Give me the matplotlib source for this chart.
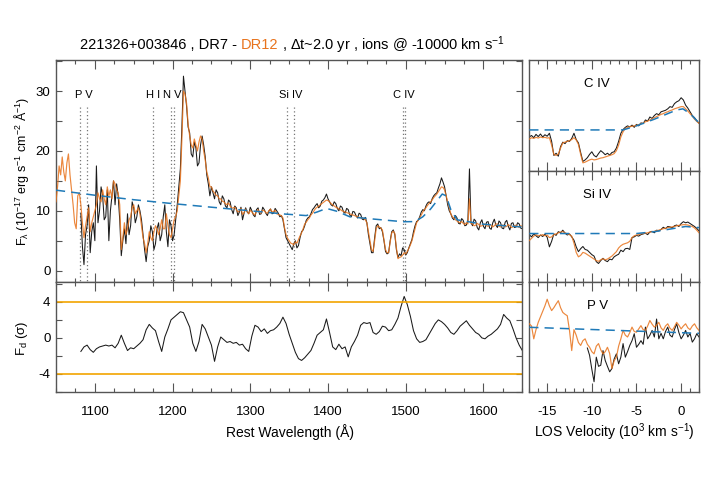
import numpy as np
import matplotlib
matplotlib.use("Agg")
import matplotlib.pyplot as plt
from matplotlib.ticker import MultipleLocator

plt.rcParams['font.family'] = ['Liberation Sans', 'DejaVu Sans']
plt.rcParams['mathtext.fontset'] = 'custom'
plt.rcParams['mathtext.rm'] = 'Liberation Sans'
plt.rcParams['mathtext.it'] = 'Liberation Sans:italic'
plt.rcParams['mathtext.default'] = 'regular'
plt.rcParams['axes.unicode_minus'] = False

# ---------------- data ----------------
# rest-frame wavelength grid (A); DR12 covers the full range, DR7 starts at 1082
wave = np.arange(1050, 1651, 2)
wave_dr7 = wave[16:]

dr12_flux = [
    11.5, 14.0, 17.5, 16.0, 19.0, 16.5, 15.0, 18.0, 19.5, 16.0, 13.5, 11.0, 8.0, 7.0, 12.5, 13.0,  # 1050-1080
    11.0, 8.0, 5.5, 7.5, 9.0, 10.5, 6.5, 8.0, 9.0, 10.0, 11.0, 13.0, 12.0, 11.5, 13.5, 12.0, 11.0, 14.0, 12.5, 13.5,  # 1082-1120
    12.0, 15.0, 14.5, 13.5, 13.0, 11.0, 3.5, 5.5, 8.0, 6.0, 7.0, 8.5, 9.0, 10.5, 11.0, 9.5, 10.0, 10.5, 9.5, 7.5,  # 1122-1160
    5.5, 4.5, 3.0, 4.5, 6.5, 5.5, 5.0, 6.5, 7.5, 7.0, 6.0, 7.0, 8.5, 7.0, 7.0, 9.5, 7.5, 6.0, 5.5, 7.0,  # 1162-1200
    8.5, 9.0, 10.0, 12.5, 15.0, 22.0, 30.0, 29.5, 28.0, 24.5, 22.5, 21.0, 20.5, 22.0, 21.0, 20.0, 21.5, 22.5, 22.0, 20.0,  # 1202-1240
    18.5, 16.5, 15.5, 14.0, 14.0, 13.3, 13.0, 12.6, 12.5, 12.0, 12.0, 11.6, 11.5, 11.2, 11.0, 11.3, 10.8, 10.4, 10.5, 10.6,  # 1242-1280
    10.2, 9.8, 10.0, 10.4, 9.4, 9.7, 10.3, 9.9, 9.5, 10.1, 9.8, 9.5, 9.3, 9.9, 10.2, 9.7, 9.6, 10.1, 10.0, 9.7,  # 1282-1320
    9.6, 10.0, 10.3, 9.8, 9.9, 10.1, 9.5, 9.4, 9.3, 9.2, 8.8, 7.2, 6.0, 5.4, 5.0, 4.6, 4.5, 4.3, 4.8, 4.6,  # 1322-1360
    5.2, 5.8, 6.3, 7.0, 7.8, 8.1, 8.5, 8.8, 9.3, 9.6, 10.0, 10.4, 10.6, 10.8, 11.0, 11.2, 11.4, 11.6, 11.8, 11.7,  # 1362-1400
    11.5, 11.2, 11.0, 10.8, 10.6, 10.5, 10.3, 10.2, 10.0, 9.9, 9.8, 9.7, 9.6, 9.5, 9.4, 9.3, 9.2, 9.1, 9.0, 8.9,  # 1402-1440
    8.8, 8.8, 8.7, 8.5, 8.0, 6.5, 5.0, 3.5, 3.2, 5.0, 7.0, 7.5, 7.3, 7.1, 6.8, 5.2, 3.5, 3.0, 3.0, 4.8,  # 1442-1480
    6.3, 6.6, 6.2, 3.8, 2.0, 2.2, 2.3, 2.6, 3.0, 2.8, 3.2, 3.7, 4.3, 5.0, 6.0, 7.0, 8.0, 8.4, 8.8, 9.3,  # 1482-1520
    9.8, 10.2, 10.5, 10.9, 11.2, 11.5, 11.8, 12.2, 12.5, 12.8, 13.2, 13.6, 14.0, 13.9, 13.5, 12.5, 11.5, 10.5, 9.5, 9.0,  # 1522-1560
    8.8, 8.5, 8.3, 8.1, 8.0, 8.2, 7.9, 7.7, 8.0, 7.8, 12.0, 7.9, 7.8, 7.5, 7.6, 7.9, 7.7, 7.4, 7.5, 7.7,  # 1562-1600
    7.8, 7.5, 7.4, 7.7, 7.6, 7.3, 7.5, 7.8, 7.8, 7.4, 7.3, 7.6, 7.6, 7.3, 7.4, 7.7, 7.5, 7.2, 7.3, 7.5,  # 1602-1640
    7.6, 7.4, 7.2, 7.5, 7.4,  # 1642-1650
]

dr7_flux = [
    9.5, 4.0, 1.0, 6.0, 7.5, 11.0, 3.0, 6.5, 8.0, 5.0, 17.5, 8.0, 10.0, 14.0, 12.5, 8.5, 9.0, 13.5, 5.0, 10.0,  # 1082-1120
    12.5, 15.0, 11.0, 14.5, 12.5, 8.5, 2.5, 5.0, 7.0, 4.5, 9.5, 6.0, 7.5, 11.5, 10.5, 8.0, 9.0, 11.0, 10.0, 8.5,  # 1122-1160
    6.0, 3.5, 1.5, 4.0, 5.0, 7.5, 6.5, 3.5, 4.5, 7.0, 8.0, 5.0, 6.0, 9.0, 11.0, 6.5, 4.0, 8.5, 7.5, 5.0,  # 1162-1200
    6.0, 8.5, 11.0, 14.0, 17.0, 24.0, 32.5, 30.0, 27.5, 24.0, 23.0, 19.5, 19.0, 21.5, 20.5, 17.5, 18.0, 21.0, 22.5, 21.0,  # 1202-1240
    19.0, 16.0, 14.5, 12.5, 14.0, 13.0, 12.0, 13.5, 13.0, 11.5, 11.0, 12.5, 12.0, 10.8, 10.5, 11.8, 11.5, 10.2, 9.5, 10.8,  # 1242-1280
    10.5, 9.2, 9.8, 10.6, 8.5, 9.6, 10.5, 9.8, 9.5, 10.6, 10.0, 9.3, 9.0, 10.2, 10.5, 9.4, 9.5, 10.6, 10.2, 9.6,  # 1282-1320
    9.2, 10.0, 10.3, 9.5, 9.6, 10.4, 10.0, 9.6, 9.0, 9.2, 8.5, 7.0, 5.5, 5.0, 4.5, 4.0, 3.5, 4.5, 5.0, 3.8,  # 1322-1360
    4.2, 5.5, 6.5, 6.8, 7.5, 8.4, 8.8, 9.0, 9.5, 10.2, 10.5, 10.9, 11.2, 10.5, 10.8, 11.6, 11.8, 12.2, 12.8, 12.0,  # 1362-1400
    11.5, 11.0, 10.8, 11.5, 11.2, 10.4, 10.0, 10.8, 10.6, 9.8, 9.6, 10.4, 10.2, 9.3, 9.0, 9.9, 9.8, 9.2, 8.8, 9.6,  # 1402-1440
    9.4, 8.6, 8.5, 8.9, 8.0, 6.0, 4.5, 3.0, 3.0, 5.5, 7.5, 7.8, 7.0, 7.2, 6.5, 5.0, 3.2, 2.8, 3.0, 5.0,  # 1442-1480
    6.5, 6.8, 6.0, 3.5, 2.2, 2.8, 2.5, 3.8, 3.5, 2.6, 3.0, 3.8, 4.5, 5.2, 6.5, 7.5, 8.2, 8.4, 9.0, 9.8,  # 1482-1520
    10.2, 10.0, 10.8, 11.3, 11.5, 11.2, 12.0, 12.5, 12.8, 13.0, 13.8, 14.5, 15.5, 14.8, 14.0, 12.5, 11.0, 10.0, 9.5, 8.8,  # 1522-1560
    8.5, 9.2, 8.8, 7.9, 7.8, 8.7, 8.4, 7.5, 7.6, 8.4, 17.0, 8.0, 7.5, 8.6, 8.3, 7.2, 6.8, 8.0, 8.5, 7.4,  # 1562-1600
    7.0, 8.1, 8.2, 7.1, 6.9, 8.0, 8.6, 7.6, 7.2, 8.3, 8.0, 7.1, 7.0, 8.1, 8.4, 7.4, 6.8, 7.9, 8.0, 7.2,  # 1602-1640
    7.3, 8.0, 7.8, 7.1, 7.0,  # 1642-1650
]

# continuum + emission-line fit
cont_wave = [1050, 1100, 1150, 1200, 1250, 1300, 1345, 1372, 1386, 1398, 1412,
             1428, 1460, 1497, 1512, 1522, 1532, 1541, 1547, 1552, 1558, 1566, 1600, 1650]
cont_flux = [13.45, 12.6, 11.85, 11.2, 10.6, 10.0, 9.45, 9.2, 9.8, 10.4, 9.9,
             9.0, 8.6, 8.17, 8.2, 9.0, 10.3, 11.8, 12.8, 12.5, 10.2, 8.5, 7.75, 7.3]

# flux-difference significance (sigma), 4 A steps from 1082
sig_wave = np.arange(1082, 1651, 4)
sigma_diff = [
    -1.5, -1.0, -0.8, -1.3, -1.6, -1.2, -1.0, -0.9, -0.8, -0.9,  # 1082-1118
    -0.8, -1.1, -0.6, 0.3, -0.6, -1.4, -1.1, -1.2, -0.9, -0.6,   # 1122-1158
    -0.2, 0.9, 1.5, 1.1, 0.8, -0.4, -1.5, 0.1, 1.0, 2.0,         # 1162-1198
    2.3, 2.6, 2.9, 2.8, 2.0, 1.2, -0.6, -1.5, -0.4, 1.5,         # 1202-1238
    1.0, 0.1, -0.8, -2.6, -1.0, 0.1, -0.2, -0.5, -0.4, -0.6,     # 1242-1278
    -0.5, -0.8, -0.7, -1.2, -1.5, 0.2, 1.4, 1.2, 0.7, 1.0,       # 1282-1318
    0.5, 0.8, 0.9, 1.2, 1.6, 2.3, 1.6, 0.4, -0.6, -1.6,          # 1322-1358
    -2.3, -2.5, -2.2, -1.8, -1.4, -0.6, 0.3, 0.6, 0.9, 2.1,      # 1362-1398
    0.6, -1.0, -1.3, -0.7, -1.2, -1.0, -2.1, -1.0, -0.4, 0.3,    # 1402-1438
    1.4, 1.7, 1.6, 1.7, 0.6, 0.4, 0.7, 1.3, 1.2, 0.8,            # 1442-1478
    0.9, 1.5, 2.2, 3.5, 4.6, 3.7, 2.4, 0.8, -0.1, -0.5,          # 1482-1518
    -0.4, -0.2, 0.4, 1.0, 1.6, 2.0, 1.8, 1.5, 1.1, 0.6,          # 1522-1558
    0.4, 0.8, 1.3, 1.6, 1.9, 1.4, 1.0, 0.6, 0.4, 0.0,            # 1562-1598
    -0.1, 0.2, 0.4, 0.7, 1.0, 1.5, 2.6, 2.2, 1.9, 1.0,           # 1602-1638
    0.0, -0.8, -1.4,                                             # 1642-1650
]

# ions marked at -10000 km/s
ion_names = ['P V', 'H I', 'N V', 'Si IV', 'C IV']
ion_rest = [[1117.98, 1128.01], [1215.67], [1238.82, 1242.80],
            [1393.76, 1402.77], [1548.20, 1550.77]]
ion_vel = -10000.0

# velocity panels (10^3 km/s), flux scaled per panel
vel = np.arange(-17, 2.01, 0.25)

civ_dr7 = [
    0.92, 0.96, 0.90, 0.99, 0.93, 1.00, 0.92, 0.98, 0.94, 1.02,
    0.80, 0.42, 0.48, 0.40, 0.66, 0.78, 0.74, 0.82, 0.80, 0.88,
    1.02, 0.85, 0.76, 0.50, 0.26, 0.30, 0.36, 0.45, 0.52, 0.42,
    0.38, 0.47, 0.55, 0.50, 0.44, 0.48, 0.43, 0.50, 0.52, 0.62,
    0.80, 1.02, 1.12, 1.18, 1.22, 1.19, 1.24, 1.18, 1.26, 1.22,
    1.30, 1.28, 1.38, 1.35, 1.46, 1.42, 1.50, 1.55, 1.52, 1.60,
    1.62, 1.64, 1.68, 1.74, 1.72, 1.82, 1.87, 1.90, 1.98, 1.92,
    1.78, 1.70, 1.60, 1.50, 1.44, 1.36, 1.29,
]
civ_dr12 = [
    0.86, 0.90, 0.88, 0.91, 0.89, 0.92, 0.90, 0.91, 0.89, 0.90,
    0.70, 0.45, 0.42, 0.46, 0.62, 0.76, 0.78, 0.80, 0.82, 0.85,
    0.90, 0.84, 0.72, 0.45, 0.22, 0.24, 0.27, 0.30, 0.32, 0.30,
    0.31, 0.33, 0.35, 0.36, 0.38, 0.40, 0.42, 0.44, 0.47, 0.55,
    0.70, 0.92, 1.06, 1.15, 1.18, 1.20, 1.21, 1.22, 1.24, 1.25,
    1.28, 1.30, 1.33, 1.35, 1.38, 1.41, 1.44, 1.47, 1.50, 1.53,
    1.55, 1.58, 1.60, 1.63, 1.65, 1.68, 1.70, 1.72, 1.74, 1.74,
    1.68, 1.62, 1.55, 1.48, 1.40, 1.34, 1.29,
]
civ_cont_vel = [-17, -6.5, -5, -3, -1.5, -0.5, 0.2, 1, 2]
civ_cont = [1.11, 1.11, 1.22, 1.40, 1.55, 1.65, 1.68, 1.55, 1.30]

siiv_dr7 = [
    1.28, 1.22, 1.30, 1.25, 1.20, 1.27, 1.23, 1.29, 1.21, 0.95,
    1.10, 1.30, 1.26, 1.36, 1.33, 1.40, 1.32, 1.27, 1.30, 1.22,
    1.13, 0.95, 0.82, 0.90, 0.96, 0.88, 0.86, 0.80, 0.74, 0.70,
    0.55, 0.50, 0.58, 0.64, 0.58, 0.55, 0.62, 0.60, 0.68, 0.72,
    0.75, 0.86, 0.82, 0.90, 0.91, 0.88, 1.20, 1.22, 1.26, 1.24,
    1.28, 1.30, 1.32, 1.28, 1.35, 1.37, 1.33, 1.40, 1.38, 1.42,
    1.48, 1.44, 1.50, 1.49, 1.46, 1.52, 1.54, 1.50, 1.58, 1.63,
    1.60, 1.62, 1.58, 1.54, 1.50, 1.45, 1.38,
]
siiv_dr12 = [
    1.12, 1.18, 1.24, 1.28, 1.25, 1.26, 1.28, 1.25, 1.27, 1.20,
    1.22, 1.28, 1.30, 1.33, 1.35, 1.36, 1.33, 1.30, 1.28, 1.24,
    1.05, 0.80, 0.68, 0.72, 0.80, 0.78, 0.74, 0.70, 0.66, 0.62,
    0.58, 0.56, 0.60, 0.63, 0.60, 0.62, 0.66, 0.70, 0.76, 0.82,
    0.92, 0.98, 1.02, 1.04, 1.06, 1.10, 1.20, 1.25, 1.27, 1.28,
    1.30, 1.31, 1.32, 1.33, 1.35, 1.36, 1.37, 1.39, 1.40, 1.42,
    1.44, 1.45, 1.47, 1.48, 1.49, 1.50, 1.52, 1.53, 1.54, 1.55,
    1.55, 1.54, 1.52, 1.50, 1.46, 1.40, 1.33,
]
siiv_cont_vel = [-17, -5, -3, -1, 0.5, 2]
siiv_cont = [1.31, 1.31, 1.36, 1.44, 1.50, 1.47]

nan = np.nan
pv_dr7 = [
    nan, nan, nan, nan, nan, nan, nan, nan, nan, nan,
    nan, nan, nan, nan, nan, nan, nan, nan, nan, nan,
    nan, nan, nan, nan, nan, nan, 1.20, 1.00, 0.62, 0.28,
    0.95, 0.70, 0.73, 1.13, 0.86, 0.70, 0.55, 0.64, 0.90, 1.04,
    0.77, 0.95, 1.32, 0.95, 1.10, 1.27, 1.40, 1.59, 1.22, 1.30,
    1.40, 1.30, 1.77, 1.45, 1.55, 1.68, 1.50, 1.99, 1.45, 1.60,
    1.45, 1.65, 1.77, 1.55, 1.50, 1.70, 1.86, 1.62, 1.45, 1.55,
    1.68, 1.50, 1.60, 1.36, 1.45, 1.59, 1.50,
]
pv_dr12 = [
    1.86, 1.80, 1.45, 1.70, 1.90, 2.05, 2.20, 2.35, 2.53, 2.35,
    2.22, 2.30, 2.40, 2.49, 2.30, 2.17, 2.12, 2.08, 1.68, 1.13,
    1.70, 1.55, 1.35, 1.27, 1.40, 1.45, 1.30, 1.22, 1.10, 1.04,
    1.25, 1.32, 1.15, 1.04, 1.10, 1.22, 1.05, 0.64, 0.85, 0.95,
    1.25, 1.45, 1.68, 1.55, 1.50, 1.62, 1.77, 1.65, 1.63, 1.72,
    1.81, 1.70, 1.68, 1.80, 1.95, 1.85, 1.77, 1.82, 1.90, 1.75,
    1.68, 1.80, 1.86, 1.74, 1.68, 1.78, 1.90, 1.82, 1.72, 1.80,
    1.86, 1.75, 1.70, 1.80, 1.86, 1.75, 1.68,
]
pv_cont_vel = [-17, 2]
pv_cont = [1.765, 1.60]

# ---------------- style ----------------
BLACK = '#1a1a1a'
ORANGE = '#e8731c'
BLUE = '#1f7ab8'
GOLD = '#f2a400'
FRAME = '#555555'

W, H = 706, 504
fig = plt.figure(figsize=(W / 100, H / 100), dpi=100)


def box(x0, y0, x1, y1):
    return [x0 / W, 1 - y1 / H, (x1 - x0) / W, (y1 - y0) / H]


ax_main = fig.add_axes(box(56, 60, 522.3, 282))
ax_sig = fig.add_axes(box(56, 282, 522.3, 392))
ax_civ = fig.add_axes(box(529.3, 60, 699, 171))
ax_siiv = fig.add_axes(box(529.3, 171, 699, 282))
ax_pv = fig.add_axes(box(529.3, 282, 699, 392))


def style(ax, yticks=True):
    for s in ax.spines.values():
        s.set_color(FRAME)
        s.set_linewidth(1.0)
    ax.tick_params(which='both', direction='in', top=True, right=True,
                   color=FRAME, width=0.8, labelsize=9.5, pad=4)
    ax.tick_params(which='major', length=6.3)
    ax.tick_params(which='minor', length=3.2)
    ax.tick_params(axis='x', pad=10)
    if yticks:
        ax.tick_params(axis='y', which='both', length=4)
    else:
        ax.tick_params(axis='y', which='both', left=False, right=False, labelleft=False)


# main spectrum panel
ax_main.plot(wave_dr7, dr7_flux, color=BLACK, lw=0.75, zorder=2)
ax_main.plot(wave, dr12_flux, color=ORANGE, lw=0.85, alpha=0.85, zorder=3)
ax_main.plot(cont_wave, cont_flux, color=BLUE, lw=1.1, ls=(0, (6, 4)), zorder=4)
ax_main.set_xlim(1050, 1650)
ax_main.set_ylim(-1.9, 35.2)
ax_main.xaxis.set_major_locator(MultipleLocator(100))
ax_main.xaxis.set_minor_locator(MultipleLocator(25))
ax_main.yaxis.set_major_locator(MultipleLocator(10))
ax_main.yaxis.set_minor_locator(MultipleLocator(5))
style(ax_main)
ax_main.tick_params(labelbottom=False)

shift = 1 + ion_vel / 299792.458
for name, rest in zip(ion_names, ion_rest):
    obs = [r * shift for r in rest]
    for w in obs:
        ax_main.plot([w, w], [27.3, -1.9], color='#777777', lw=0.9,
                     ls=(0, (1, 2)), zorder=1)
    ax_main.text(np.mean(obs), 29.3, name, ha='center', va='center', fontsize=8)

# significance panel
ax_sig.plot(sig_wave, sigma_diff, color=BLACK, lw=0.75)
ax_sig.axhline(4, color=GOLD, lw=1.2)
ax_sig.axhline(-4, color=GOLD, lw=1.2)
ax_sig.set_xlim(1050, 1650)
ax_sig.set_ylim(-6, 6.2)
ax_sig.xaxis.set_major_locator(MultipleLocator(100))
ax_sig.xaxis.set_minor_locator(MultipleLocator(25))
ax_sig.yaxis.set_major_locator(MultipleLocator(4))
ax_sig.yaxis.set_minor_locator(MultipleLocator(2))
style(ax_sig)

# velocity panels
panels = [
    (ax_civ, civ_dr7, civ_dr12, civ_cont_vel, civ_cont, 'C IV'),
    (ax_siiv, siiv_dr7, siiv_dr12, siiv_cont_vel, siiv_cont, 'Si IV'),
    (ax_pv, pv_dr7, pv_dr12, pv_cont_vel, pv_cont, 'P V'),
]
for ax, f7, f12, cv, cf, name in panels:
    ax.plot(vel, f7, color=BLACK, lw=0.75, zorder=2)
    ax.plot(vel, f12, color=ORANGE, lw=0.85, alpha=0.85, zorder=3)
    ax.plot(cv, cf, color=BLUE, lw=1.1, ls=(0, (6, 4)), zorder=4)
    ax.set_xlim(-17, 2)
    ax.set_ylim(0, 3)
    ax.xaxis.set_major_locator(MultipleLocator(5))
    ax.xaxis.set_minor_locator(MultipleLocator(1))
    style(ax, yticks=False)
    ax.text(0.40, 0.78, name, transform=ax.transAxes, ha='center', va='center',
            fontsize=9.5)
    if ax is not ax_pv:
        ax.tick_params(labelbottom=False)

# axis labels
fig.text(22 / W, 1 - 171 / H,
         r'F$_\lambda$ (10$^{-17}$ erg s$^{-1}$ cm$^{-2}$ Å$^{-1}$)',
         rotation=90, ha='center', va='center', fontsize=9)
fig.text(22 / W, 1 - 338 / H, r'F$_d$ ($\sigma$)', rotation=90,
         ha='center', va='center', fontsize=9.5)
fig.text(290 / W, 1 - 432 / H, 'Rest Wavelength (Å)', ha='center',
         va='center', fontsize=10)
fig.text(614 / W, 1 - 432 / H, r'LOS Velocity (10$^3$ km s$^{-1}$)',
         ha='center', va='center', fontsize=10)

# two-coloured title
title_parts = [('221326+003846 , DR7 -', 'black'), ('DR12', ORANGE),
               (r', $\Delta$t~2.0 yr , ions @ -10000 km s$^{-1}$', 'black')]
fig.canvas.draw()
renderer = fig.canvas.get_renderer()
x = 80.0
for txt, col in title_parts:
    t = fig.text(x / W, 1 - 45 / H, txt, color=col, ha='left', va='center',
                 fontsize=10.5)
    bb = t.get_window_extent(renderer=renderer)
    x = bb.x1 + 4

fig.savefig('out.png', dpi=100)
